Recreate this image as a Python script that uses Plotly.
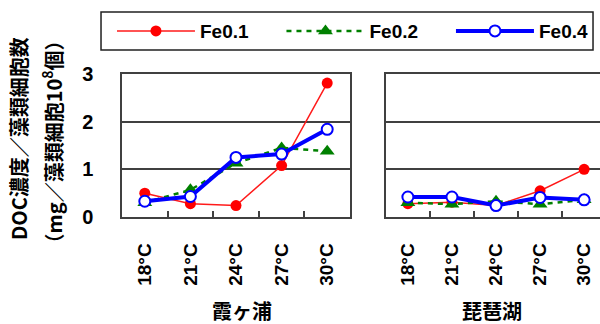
import plotly.graph_objects as go

categories = ["18°C", "21°C", "24°C", "27°C", "30°C"]
series_names = ["Fe0.1", "Fe0.2", "Fe0.4"]
kasumigaura_fe01 = [0.50, 0.28, 0.24, 1.08, 2.81]
kasumigaura_fe02 = [0.30, 0.57, 1.13, 1.45, 1.38]
kasumigaura_fe04 = [0.33, 0.43, 1.25, 1.32, 1.84]
biwako_fe01 = [0.28, 0.31, 0.24, 0.55, 1.00]
biwako_fe02 = [0.30, 0.27, 0.33, 0.27, 0.36]
biwako_fe04 = [0.42, 0.42, 0.24, 0.41, 0.36]
panel_labels = ["霞ヶ浦", "琵琶湖"]
y_ticks = [0, 1, 2, 3]
y_title_1 = "DOC濃度／藻類細胞数"
y_title_2 = "（mg／藻類細胞10<sup>8</sup>個）"

FONT = "Liberation Sans, Arial, Noto Sans CJK JP"
CJK = "Noto Sans CJK JP, Liberation Sans"
FRAME = "#404040"

styles = [
    dict(line=dict(color="#ff1a1a", width=1.5),
         marker=dict(symbol="circle", size=11, color="#ff0000")),
    dict(line=dict(color="#008000", width=2.5, dash="5px,5px"),
         marker=dict(symbol="triangle-up", size=13, color="#008000")),
    dict(line=dict(color="#0000ff", width=4),
         marker=dict(symbol="circle", size=11, color="white",
                     line=dict(color="#0000ff", width=2))),
]

fig = go.Figure()
panels = [
    ("x", "y", [kasumigaura_fe01, kasumigaura_fe02, kasumigaura_fe04]),
    ("x2", "y2", [biwako_fe01, biwako_fe02, biwako_fe04]),
]
for pi, (xa, ya, data) in enumerate(panels):
    for si, vals in enumerate(data):
        fig.add_trace(go.Scatter(
            x=categories, y=vals, name=series_names[si], mode="lines+markers",
            xaxis=xa, yaxis=ya, showlegend=(pi == 0), cliponaxis=False,
            **styles[si]))

xcommon = dict(type="category", showline=True, linecolor=FRAME, linewidth=1.5,
               mirror=True, ticks="inside", tickson="boundaries", ticklen=6,
               tickcolor=FRAME, tickwidth=1.5, tickangle=-90, showgrid=False,
               tickfont=dict(family=FONT, size=19, color="black", weight="bold"),
               ticklabelstandoff=17, automargin=False)
ycommon = dict(range=[0, 3], tickvals=y_ticks, showgrid=True, gridcolor=FRAME,
               gridwidth=1.5, zeroline=False, showline=True, linecolor=FRAME,
               linewidth=1.5, ticks="", automargin=False)

fig.update_layout(
    width=600, height=324,
    margin=dict(l=122, r=0, t=74, b=107, autoexpand=False),
    paper_bgcolor="white", plot_bgcolor="white",
    showlegend=True,
    xaxis=dict(domain=[0, 0.477], range=[-0.5, 4.5], **xcommon),
    xaxis2=dict(domain=[0.552, 1.0], range=[-0.5, 4.36], anchor="y2", **xcommon),
    yaxis=dict(mirror=True, showticklabels=True, ticklabelstandoff=23,
               tickfont=dict(family=FONT, size=20, color="black", weight="bold"),
               **ycommon),
    yaxis2=dict(anchor="x2", mirror=False, showticklabels=False, **ycommon),
    legend=dict(orientation="h", x=-0.021, xanchor="left", y=1.433, yanchor="top",
                borderwidth=0, bgcolor="rgba(0,0,0,0)",
                font=dict(family=FONT, size=19, color="black", weight="bold"),
                itemwidth=78, entrywidth=76.5, entrywidthmode="pixels",
                tracegroupgap=0),
    shapes=[dict(type="rect", xref="paper", yref="paper",
                 x0=-0.0439, x1=0.9854, y0=1.168, y1=1.434,
                 line=dict(color="#202020", width=1.5), fillcolor="rgba(0,0,0,0)",
                 layer="below")],
)

fig.add_annotation(text=y_title_1, xref="paper", yref="paper", x=-0.2165, y=0.549,
                   xanchor="center", yanchor="middle", textangle=-90, showarrow=False,
                   font=dict(family=CJK, size=20, color="black", weight="bold"))
fig.add_annotation(text=y_title_2, xref="paper", yref="paper", x=-0.1454, y=0.524,
                   xanchor="center", yanchor="middle", textangle=-90, showarrow=False,
                   font=dict(family=CJK, size=20, color="black", weight="bold"))
for i, lab in enumerate(panel_labels):
    fig.add_annotation(text=lab, xref="paper", yref="paper",
                       x=(0.250 if i == 0 else 0.775), y=-0.655,
                       xanchor="center", yanchor="middle", showarrow=False,
                       font=dict(family=CJK, size=20, color="black", weight="bold"))

fig.write_html("out.html", config={"displayModeBar": False},
               post_script="document.body.style.margin='0px';")
